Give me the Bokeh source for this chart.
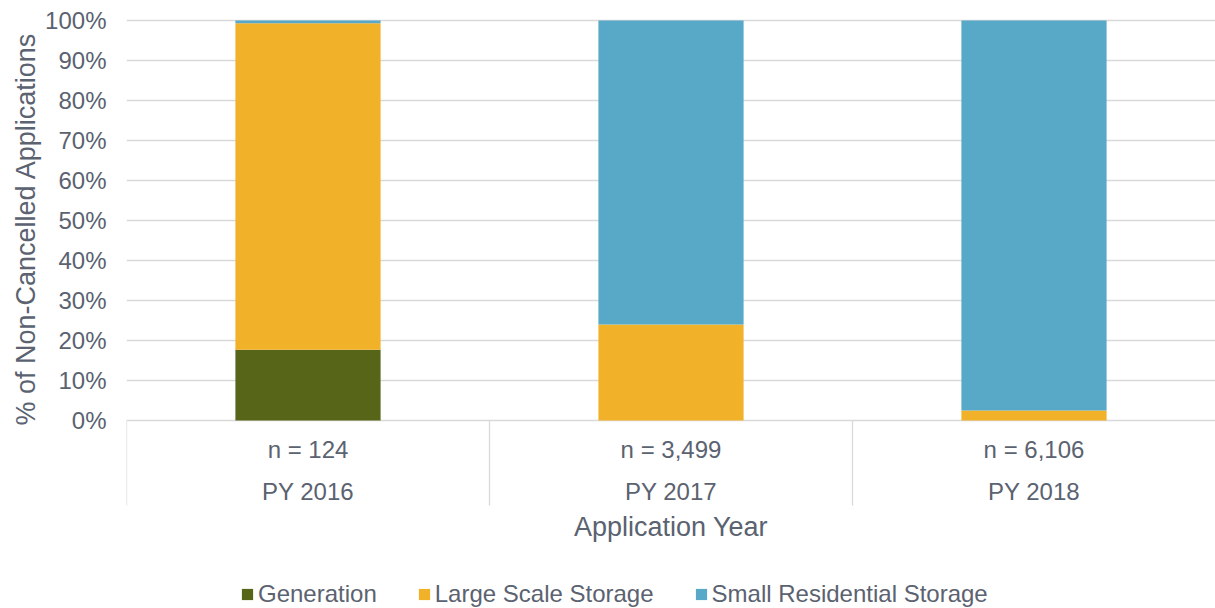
from bokeh.plotting import figure
from bokeh.models import (FixedTicker, PrintfTickFormatter, Legend, LegendItem,
                          Title, ColumnDataSource)
from bokeh.core.properties import value
from bokeh.embed import file_html
from bokeh.resources import INLINE

# ---- data ----
years = ["PY 2016", "PY 2017", "PY 2018"]
n_labels = ["n = 124", "n = 3,499", "n = 6,106"]
generation = [17.7, 0.0, 0.0]
large_scale = [81.6, 24.0, 2.5]
small_residential = [0.7, 76.0, 97.5]
series = ["Generation", "Large Scale Storage", "Small Residential Storage"]
y_ticks = [0, 10, 20, 30, 40, 50, 60, 70, 80, 90, 100]
y_title = "% of Non-Cancelled Applications"
x_title = "Application Year"

colors = ["#566518", "#F1B22A", "#58A8C7"]
TXT = "#5b6270"
GRID = "#d9d9d9"
FONT = "Liberation Sans"
LBL = "24px"
TTL = "27px"

src = ColumnDataSource(dict(year=years, gen=generation, large=large_scale,
                            small=small_residential))

p = figure(x_range=years, y_range=(-47, 100.5), width=1215, height=608,
           output_backend="svg", toolbar_location=None, x_axis_location=None,
           min_border_left=126, min_border_right=0, min_border_top=18,
           min_border_bottom=0, outline_line_color=None)

p.xgrid.grid_line_color = None
p.ygrid.ticker = FixedTicker(ticks=y_ticks)
p.ygrid.grid_line_color = GRID
p.ygrid.grid_line_width = 1.3

ya = p.yaxis[0]
ya.ticker = FixedTicker(ticks=y_ticks)
ya.formatter = PrintfTickFormatter(format="%d%%")
ya.axis_line_color = None
ya.major_tick_line_color = None
ya.minor_tick_line_color = None
ya.major_tick_out = 0
ya.major_label_standoff = 20
ya.major_label_text_font = FONT
ya.major_label_text_font_size = LBL
ya.major_label_text_color = TXT

rs = p.vbar_stack(["gen", "large", "small"], x="year", width=0.4, color=colors,
                  line_color=None, source=src)

# category separators below the baseline
sep_x = [(yr, -0.5) for yr in years]
p.segment(x0=sep_x, y0=[0] * len(years), x1=sep_x, y1=[-21.25] * len(years),
          line_color=GRID, line_width=1.3)

# category labels
p.text(x=years, y=[-7.25] * len(years), text=n_labels, text_align="center",
       text_baseline="middle", text_font=value(FONT), text_font_size=LBL,
       text_color=TXT)
p.text(x=years, y=[-17.75] * len(years), text=years, text_align="center",
       text_baseline="middle", text_font=value(FONT), text_font_size=LBL,
       text_color=TXT)

# axis titles
p.text(x=[years[1]], y=[-26.5], text=[x_title], text_align="center",
       text_baseline="middle", text_font=value(FONT), text_font_size=TTL,
       text_color=TXT)
p.add_layout(Title(text=y_title, align="left", vertical_align="top",
                   offset=183, standoff=0, text_font=FONT, text_font_size=TTL,
                   text_font_style="normal", text_color=TXT), "left")

legend = Legend(items=[LegendItem(label=s, renderers=[r]) for s, r in zip(series, rs)],
                orientation="horizontal", location=(114, 0),
                glyph_width=14, glyph_height=14, label_standoff=4, spacing=40,
                padding=0, margin=0, border_line_color=None,
                background_fill_alpha=0, label_text_font=FONT,
                label_text_font_size=LBL, label_text_color=TXT)
p.add_layout(legend)

open("out.html", "w").write(file_html(p, INLINE))
